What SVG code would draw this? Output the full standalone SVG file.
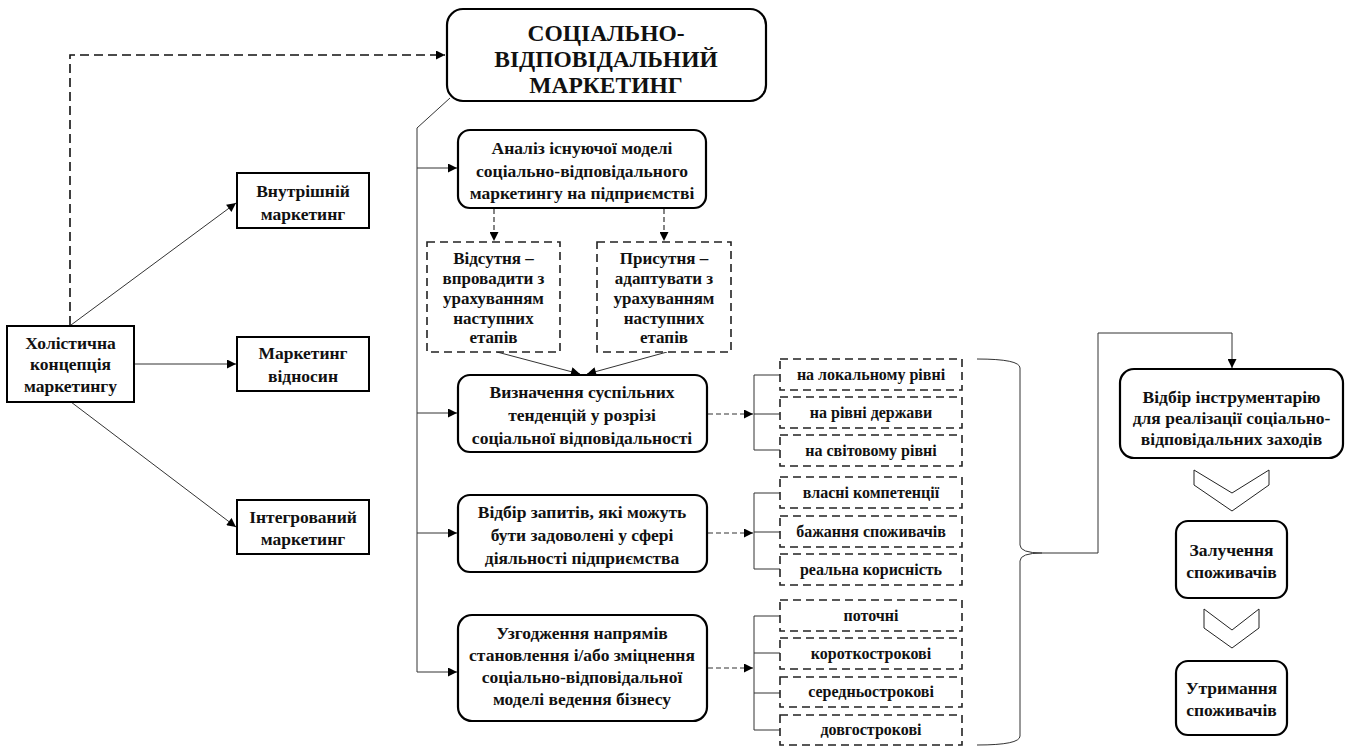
<svg xmlns="http://www.w3.org/2000/svg" width="1349" height="746" viewBox="0 0 1349 746" font-family="'Liberation Serif', serif">
<style>
text{font-family:'Liberation Serif','Times New Roman',serif;font-weight:bold;fill:#111;text-anchor:middle}
.t16{font-size:17.5px}
.t15{font-size:17px}
.t14{font-size:16px}
.title{font-size:23.5px}
.rbox{fill:#fff;stroke:#000;stroke-width:2.2}
.sbox{fill:#fff;stroke:#000;stroke-width:2}
.dbox{fill:#fff;stroke:#222;stroke-width:1.6;stroke-dasharray:8 5}
.ln{fill:none;stroke:#333;stroke-width:1}
.dl{fill:none;stroke:#333;stroke-width:1.2;stroke-dasharray:5 3}
.dlb{fill:none;stroke:#111;stroke-width:1.6;stroke-dasharray:9 5}
.chev{fill:#fff;stroke:#222;stroke-width:1}
</style>
<defs>
<marker id="arr" viewBox="0 0 10 10" refX="10" refY="5" markerWidth="10" markerHeight="9" orient="auto" markerUnits="userSpaceOnUse"><path d="M0,0 L10,5 L0,10 z" fill="#000"/></marker>
</defs>

<g id="connectors">
  <path class="dlb" d="M70,325 V55 H445" marker-end="url(#arr)"/>
  <path class="ln" d="M71,325 L236,203" marker-end="url(#arr)"/>
  <path class="ln" d="M134,364 H236" marker-end="url(#arr)"/>
  <path class="ln" d="M71,402 L236,527" marker-end="url(#arr)"/>
  <path class="ln" d="M450,98 L417,128 V672"/>
  <path class="ln" d="M417,168 H457" marker-end="url(#arr)"/>
  <path class="ln" d="M417,413 H457" marker-end="url(#arr)"/>
  <path class="ln" d="M417,533 H457" marker-end="url(#arr)"/>
  <path class="ln" d="M417,672 H457" marker-end="url(#arr)"/>
  <path class="dl" d="M494,209 V241" marker-end="url(#arr)"/>
  <path class="dl" d="M664,209 V241" marker-end="url(#arr)"/>
  <path class="ln" d="M497,352 L580,374" marker-end="url(#arr)"/>
  <path class="ln" d="M667,352 L587,374" marker-end="url(#arr)"/>
  <path class="dl" d="M708,414 H753" marker-end="url(#arr)"/>
  <path class="ln" d="M780,375 H754 V450 H780 M754,414 H780"/>
  <path class="dl" d="M708,533 H753" marker-end="url(#arr)"/>
  <path class="ln" d="M780,493 H754 V569 H780 M754,532 H780"/>
  <path class="dl" d="M708,668 H753" marker-end="url(#arr)"/>
  <path class="ln" d="M780,616 H754 V730 H780 M754,653 H780 M754,693 H780"/>
  <path class="ln" stroke-width="1.3" d="M977,359 Q1020,359 1020,368 V545 Q1020,553 1042,553 Q1020,553 1020,561 V736 Q1020,745 977,745"/>
  <path class="ln" d="M1042,553 H1098 V333 H1232 V368" marker-end="url(#arr)"/>
</g>

<g id="title">
  <rect class="rbox" x="447" y="9" width="319" height="92" rx="16"/>
  <text class="title" x="606" y="41">СОЦІАЛЬНО-</text>
  <text class="title" x="606" y="67">ВІДПОВІДАЛЬНИЙ</text>
  <text class="title" x="606" y="93">МАРКЕТИНГ</text>
</g>

<g id="holistic">
  <rect class="sbox" x="7" y="326" width="127" height="76"/>
  <text class="t16" x="70.5" y="349">Холістична</text>
  <text class="t16" x="70.5" y="370">концепція</text>
  <text class="t16" x="70.5" y="392">маркетингу</text>
</g>

<g id="internal">
  <rect class="sbox" x="237" y="173" width="132" height="55"/>
  <text class="t16" x="303" y="197">Внутрішній</text>
  <text class="t16" x="303" y="220">маркетинг</text>
</g>
<g id="relations">
  <rect class="sbox" x="237" y="337" width="132" height="54"/>
  <text class="t16" x="303" y="359">Маркетинг</text>
  <text class="t16" x="303" y="382">відносин</text>
</g>
<g id="integrated">
  <rect class="sbox" x="237" y="500" width="132" height="54"/>
  <text class="t16" x="303" y="523">Інтегрований</text>
  <text class="t16" x="303" y="545">маркетинг</text>
</g>

<g id="analysis">
  <rect class="rbox" x="458" y="130" width="248" height="78" rx="12"/>
  <text class="t16" x="582" y="154">Аналіз існуючої моделі</text>
  <text class="t16" x="582" y="177">соціально-відповідального</text>
  <text class="t16" x="582" y="199">маркетингу  на підприємстві</text>
</g>

<g id="absent">
  <rect class="dbox" x="427" y="242" width="133" height="110"/>
  <text class="t15" x="493.5" y="264">Відсутня –</text>
  <text class="t15" x="493.5" y="284">впровадити з</text>
  <text class="t15" x="493.5" y="304">урахуванням</text>
  <text class="t15" x="493.5" y="324">наступних</text>
  <text class="t15" x="493.5" y="343">етапів</text>
</g>
<g id="present">
  <rect class="dbox" x="597" y="242" width="134" height="110"/>
  <text class="t15" x="664" y="264">Присутня –</text>
  <text class="t15" x="664" y="284">адаптувати з</text>
  <text class="t15" x="664" y="304">урахуванням</text>
  <text class="t15" x="664" y="324">наступних</text>
  <text class="t15" x="664" y="343">етапів</text>
</g>

<g id="trends">
  <rect class="rbox" x="458" y="375" width="249" height="77" rx="12"/>
  <text class="t16" x="582" y="398">Визначення  суспільних</text>
  <text class="t16" x="582" y="421">тенденцій  у  розрізі</text>
  <text class="t16" x="582" y="444">соціальної  відповідальності</text>
</g>
<g id="requests">
  <rect class="rbox" x="458" y="495" width="249" height="77" rx="12"/>
  <text class="t16" x="582" y="518">Відбір запитів, які можуть</text>
  <text class="t16" x="582" y="541">бути  задоволені  у  сфері</text>
  <text class="t16" x="582" y="564">діяльності  підприємства</text>
</g>
<g id="coordination">
  <rect class="rbox" x="458" y="615" width="249" height="106" rx="14"/>
  <text class="t16" x="582" y="639">Узгодження  напрямів</text>
  <text class="t16" x="582" y="661">становлення  і/або  зміцнення</text>
  <text class="t16" x="582" y="683">соціально-відповідальної</text>
  <text class="t16" x="582" y="705">моделі ведення бізнесу</text>
</g>

<g id="local"><rect class="dbox" x="780" y="359" width="182" height="31"/><text class="t14" x="871" y="380">на локальному рівні</text></g>
<g id="state"><rect class="dbox" x="780" y="397" width="182" height="31"/><text class="t14" x="871" y="418">на рівні  держави</text></g>
<g id="world"><rect class="dbox" x="780" y="435" width="182" height="31"/><text class="t14" x="871" y="456">на світовому рівні</text></g>
<g id="competence"><rect class="dbox" x="780" y="477" width="182" height="31"/><text class="t14" x="871" y="498">власні компетенції</text></g>
<g id="wishes"><rect class="dbox" x="780" y="516" width="182" height="31"/><text class="t14" x="871" y="537">бажання споживачів</text></g>
<g id="utility"><rect class="dbox" x="780" y="554" width="182" height="31"/><text class="t14" x="871" y="575">реальна корисність</text></g>
<g id="current"><rect class="dbox" x="780" y="600" width="182" height="31"/><text class="t14" x="871" y="621">поточні</text></g>
<g id="short"><rect class="dbox" x="780" y="638" width="182" height="31"/><text class="t14" x="871" y="659">короткострокові</text></g>
<g id="medium"><rect class="dbox" x="780" y="677" width="182" height="30"/><text class="t14" x="871" y="697">середньострокові</text></g>
<g id="long"><rect class="dbox" x="780" y="715" width="182" height="30"/><text class="t14" x="871" y="735">довгострокові</text></g>

<g id="tools">
  <rect class="rbox" x="1120" y="369" width="223" height="89" rx="14"/>
  <text class="t16" x="1231.5" y="403">Відбір інструментарію</text>
  <text class="t16" x="1231.5" y="424">для реалізації соціально-</text>
  <text class="t16" x="1231.5" y="445">відповідальних заходів</text>
</g>
<g id="chevron1"><polygon class="chev" points="1194,470 1232,493 1269,470 1269,485 1232,511 1194,485"/></g>
<g id="attract">
  <rect class="rbox" x="1176" y="521" width="111" height="77" rx="12"/>
  <text class="t16" x="1231.5" y="556">Залучення</text>
  <text class="t16" x="1231.5" y="578">споживачів</text>
</g>
<g id="chevron2"><polygon class="chev" points="1204,609 1232,630 1259,609 1259,628 1232,648 1204,628"/></g>
<g id="retain">
  <rect class="rbox" x="1176" y="661" width="111" height="74" rx="12"/>
  <text class="t16" x="1231.5" y="694">Утримання</text>
  <text class="t16" x="1231.5" y="716">споживачів</text>
</g>
</svg>
